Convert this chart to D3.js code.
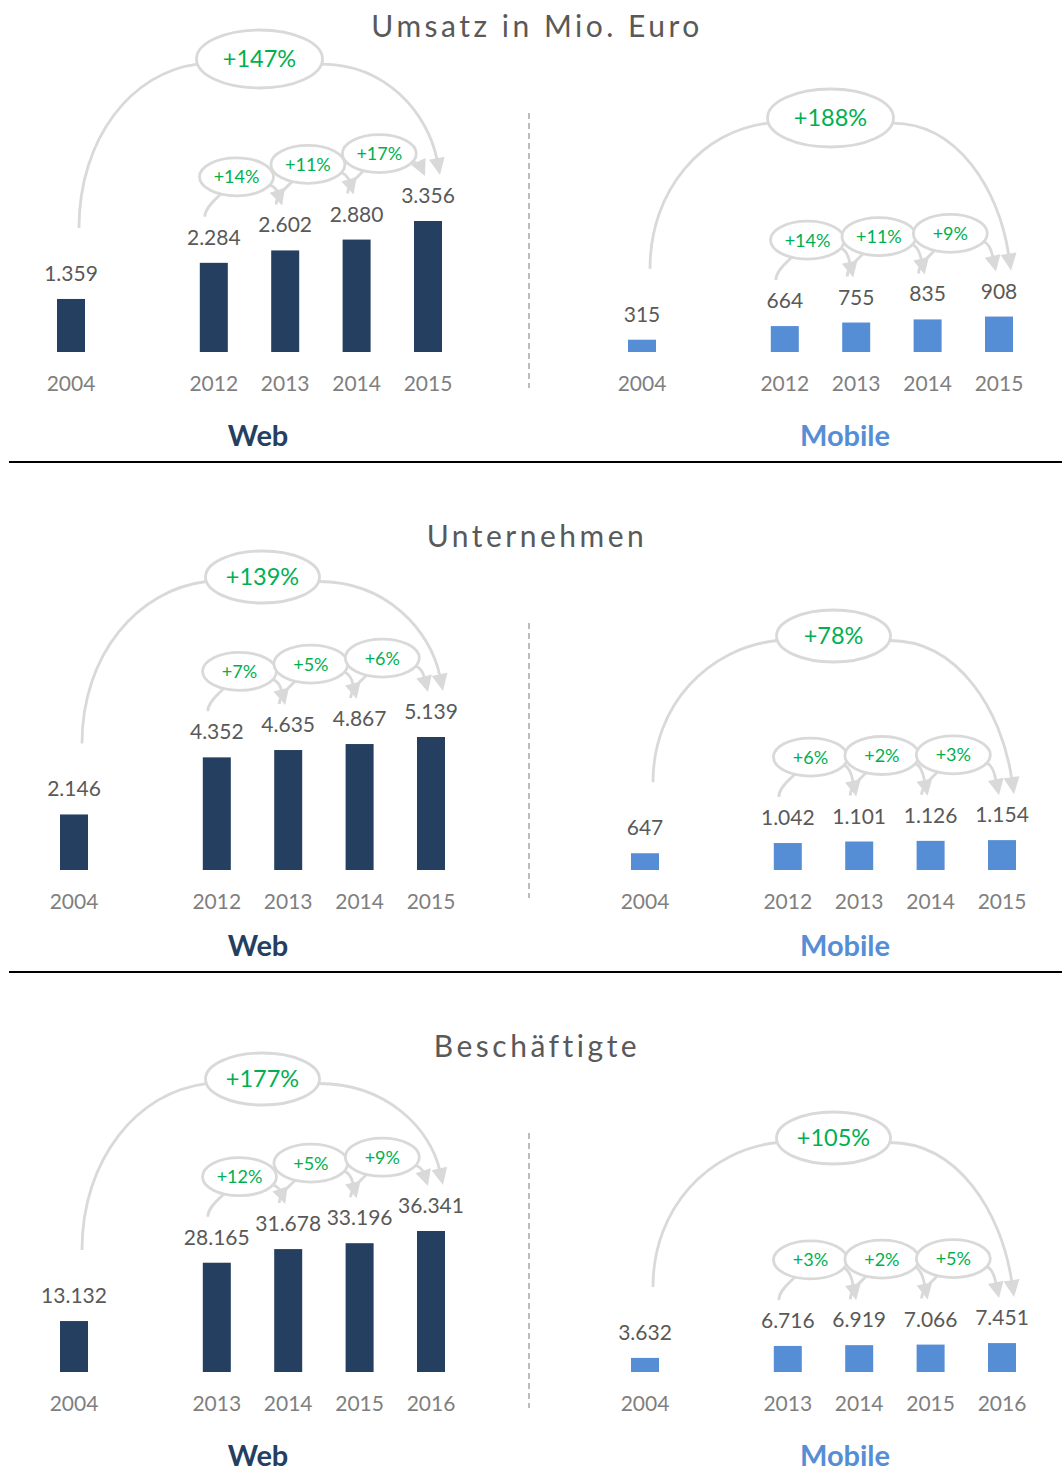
<!DOCTYPE html>
<html>
<head>
<meta charset="utf-8">
<script src="https://cdn.jsdelivr.net/npm/d3@7"></script>
<style>
    body { margin: 0; background: #fff; }
    svg { display: block; font-family: Lato, "Open Sans", sans-serif; }
</style>
</head>
<body>
<div id="chart"></div>
<script>
// Umsatz in Mio. Euro
var umsatzYears = ['2004', '2012', '2013', '2014', '2015'];
var umsatzWeb = [1359, 2284, 2602, 2880, 3356];
var umsatzWebGrowth = ['+14%', '+11%', '+17%'];
var umsatzWebTotal = '+147%';
var umsatzMobile = [315, 664, 755, 835, 908];
var umsatzMobileGrowth = ['+14%', '+11%', '+9%'];
var umsatzMobileTotal = '+188%';

// Unternehmen
var firmenYears = ['2004', '2012', '2013', '2014', '2015'];
var firmenWeb = [2146, 4352, 4635, 4867, 5139];
var firmenWebGrowth = ['+7%', '+5%', '+6%'];
var firmenWebTotal = '+139%';
var firmenMobile = [647, 1042, 1101, 1126, 1154];
var firmenMobileGrowth = ['+6%', '+2%', '+3%'];
var firmenMobileTotal = '+78%';

// Beschäftigte
var jobsYears = ['2004', '2013', '2014', '2015', '2016'];
var jobsWeb = [13132, 28165, 31678, 33196, 36341];
var jobsWebGrowth = ['+12%', '+5%', '+9%'];
var jobsWebTotal = '+177%';
var jobsMobile = [3632, 6716, 6919, 7066, 7451];
var jobsMobileGrowth = ['+3%', '+2%', '+5%'];
var jobsMobileTotal = '+105%';

(function() {
    'use strict';

    var W = 1062, H = 1477;
    var svg = d3.select('#chart').append('svg').attr('width', W).attr('height', H);

    var fmt = d3.formatLocale({ decimal: ',', thousands: '.', grouping: [3], currency: ['', ' €'] }).format(',d');

    var arcColor = '#d9d9d9';
    var green = '#00b050';

    var rows = [
        { title: 'Umsatz in Mio. Euro', top: 0, base: 352, dx: -3, maxH: 131, bigR: [63, 29],
          years: umsatzYears, web: umsatzWeb, webGrowth: umsatzWebGrowth, webTotal: umsatzWebTotal,
          mobile: umsatzMobile, mobileGrowth: umsatzMobileGrowth, mobileTotal: umsatzMobileTotal },
        { title: 'Unternehmen', top: 510, base: 870, dx: 0, maxH: 133, bigR: [57, 26],
          years: firmenYears, web: firmenWeb, webGrowth: firmenWebGrowth, webTotal: firmenWebTotal,
          mobile: firmenMobile, mobileGrowth: firmenMobileGrowth, mobileTotal: firmenMobileTotal },
        { title: 'Beschäftigte', top: 1020, base: 1372, dx: 0, maxH: 141, bigR: [57, 26],
          years: jobsYears, web: jobsWeb, webGrowth: jobsWebGrowth, webTotal: jobsWebTotal,
          mobile: jobsMobile, mobileGrowth: jobsMobileGrowth, mobileTotal: jobsMobileTotal }
    ];

    // arrow head: tip at t, pointing away from c
    var drawArrow = function(g, c, t, len, wid) {
        var dx = t[0] - c[0], dy = t[1] - c[1];
        var l = Math.sqrt(dx * dx + dy * dy);
        dx /= l; dy /= l;
        var bx = t[0] - dx * len, by = t[1] - dy * len;
        var nx = -dy, ny = dx;
        g.append('path')
            .attr('d', 'M' + t[0] + ',' + t[1] +
                'L' + (bx + nx * wid / 2) + ',' + (by + ny * wid / 2) +
                'L' + (bx - nx * wid / 2) + ',' + (by - ny * wid / 2) + 'Z')
            .attr('fill', arcColor);
        return [bx + dx * 2, by + dy * 2];
    };

    var curve = function(g, p0, c1, c2, p1) {
        g.append('path')
            .attr('d', 'M' + p0 + 'C' + c1 + ' ' + c2 + ' ' + p1)
            .attr('fill', 'none')
            .attr('stroke', arcColor)
            .attr('stroke-width', 2.8);
    };

    var bubble = function(g, e, rx, ry, label, size) {
        g.append('ellipse')
            .attr('cx', e[0]).attr('cy', e[1])
            .attr('rx', rx).attr('ry', ry)
            .attr('fill', '#fff')
            .attr('stroke', arcColor)
            .attr('stroke-width', 2.8);
        g.append('text')
            .attr('x', e[0]).attr('y', e[1])
            .attr('dy', '0.36em')
            .attr('text-anchor', 'middle')
            .attr('font-size', size)
            .attr('fill', green)
            .text(label);
    };

    var rad = Math.PI / 180;

    var drawPanel = function(row, opt) {
        var g = svg.append('g');
        var gBubbles = g.append('g');
        var gLines = g.append('g');
        var years = row.years;
        var values = opt.values;
        var x = d3.scalePoint()
            .domain([years[0], '_gap'].concat(years.slice(1)))
            .range([opt.x0 + row.dx, opt.x0 + row.dx + 357]);
        var y = d3.scaleLinear()
            .domain([0, d3.max(row.web)])
            .range([row.base, row.base - row.maxH]);

        // bars
        g.selectAll('rect').data(values).enter().append('rect')
            .attr('x', function(d, i) { return x(years[i]) - 14; })
            .attr('y', function(d) { return y(d); })
            .attr('width', 28)
            .attr('height', function(d) { return row.base - y(d); })
            .attr('fill', opt.color);

        // value labels
        g.selectAll('.val').data(values).enter().append('text')
            .attr('class', 'val')
            .attr('x', function(d, i) { return x(years[i]); })
            .attr('y', function(d) { return y(d) - 18; })
            .attr('text-anchor', 'middle')
            .attr('font-size', 21)
            .attr('fill', '#595959')
            .text(function(d) { return fmt(d); });

        // year labels
        g.selectAll('.yr').data(years).enter().append('text')
            .attr('class', 'yr')
            .attr('x', function(d) { return x(d); })
            .attr('y', row.base + 39)
            .attr('text-anchor', 'middle')
            .attr('font-size', 21)
            .attr('fill', '#7f7f7f')
            .text(function(d) { return d; });

        // panel name
        g.append('text')
            .attr('x', opt.nameX)
            .attr('y', row.top + 446)
            .attr('text-anchor', 'middle')
            .attr('font-size', 29)
            .attr('font-weight', 'bold')
            .attr('fill', opt.nameColor)
            .text(opt.name);

        // small arcs between consecutive years
        for (var i = 1; i < years.length - 1; i++) {
            var xa = x(years[i]), xb = x(years[i + 1]);
            var ya = y(values[i]), yb = y(values[i + 1]);
            var rx = 37, ry = 19;
            var S = [xa - 9, ya - 46];
            var E = [(xa + xb) / 2 - 13, ya - 86];
            var P = [E[0] - rx * Math.cos(65 * rad), E[1] + ry * Math.sin(65 * rad)];
            curve(gLines, S, [S[0], (S[1] + P[1]) / 2 + 2], [P[0] - 5, P[1] + 5], P);
            var Q = [E[0] + rx * Math.cos(25 * rad), E[1] + ry * Math.sin(25 * rad)];
            var T = [xb - 3, yb - 45];
            var c2 = [T[0] - 0.3 * (T[0] - Q[0]), T[1] - 0.55 * (T[1] - Q[1])];
            var end = drawArrow(gLines, c2, T, 16, 16);
            curve(gLines, Q, [Q[0] + 7, Q[1] + 3], c2, end);
            bubble(gBubbles, E, rx, ry, opt.growth[i - 1], 18);
        }

        // big arc first -> last
        var x0 = x(years[0]), xn = x(years[years.length - 1]);
        var bS = [x0 + 8, y(values[0]) - 71];
        var bE = [(x0 + xn) / 2 + 10, row.base - opt.arcH];
        var brx = row.bigR[0], bry = row.bigR[1];
        var L = [bE[0] - brx * Math.cos(10 * rad), bE[1] + bry * Math.sin(10 * rad)];
        curve(gLines, bS, [bS[0], bS[1] - 0.55 * (bS[1] - L[1])],
            [L[0] - 0.55 * (L[0] - bS[0]), L[1] + 0.05 * (bS[1] - L[1])], L);
        var R = [bE[0] + brx * Math.cos(10 * rad), bE[1] + bry * Math.sin(10 * rad)];
        var bT = [xn + 12, y(values[values.length - 1]) - 46];
        var bc2 = [bT[0] - 0.1 * (bT[0] - R[0]), bT[1] - 0.55 * (bT[1] - R[1])];
        var bEnd = drawArrow(gLines, bc2, bT, 17, 16);
        curve(gLines, R, [R[0] + 0.55 * (bT[0] - R[0]), R[1]], bc2, bEnd);
        bubble(gBubbles, bE, brx, bry, opt.total, 23.5);
    };

    rows.forEach(function(row, r) {
        // title
        svg.append('text')
            .attr('x', 537)
            .attr('y', row.top + 37)
            .attr('text-anchor', 'middle')
            .attr('font-size', 30)
            .attr('letter-spacing', 3.5)
            .attr('fill', '#595959')
            .text(row.title);

        // dashed divider
        svg.append('line')
            .attr('x1', 529).attr('x2', 529)
            .attr('y1', row.top + 113).attr('y2', row.top + 388)
            .attr('stroke', '#a6a6a6')
            .attr('stroke-width', 1.5)
            .attr('stroke-dasharray', '6,4');

        drawPanel(row, { values: row.web, growth: row.webGrowth, total: row.webTotal,
            x0: 74, arcH: 293, color: '#243f60', name: 'Web', nameX: 258, nameColor: '#243f60' });
        drawPanel(row, { values: row.mobile, growth: row.mobileGrowth, total: row.mobileTotal,
            x0: 645, arcH: 234, color: '#558ed5', name: 'Mobile', nameX: 845, nameColor: '#558ed5' });

        // separator
        if (r < rows.length - 1) {
            svg.append('line')
                .attr('x1', 9).attr('x2', W)
                .attr('y1', row.top + 462).attr('y2', row.top + 462)
                .attr('stroke', '#000')
                .attr('stroke-width', 2);
        }
    });
})();
</script>
</body>
</html>
